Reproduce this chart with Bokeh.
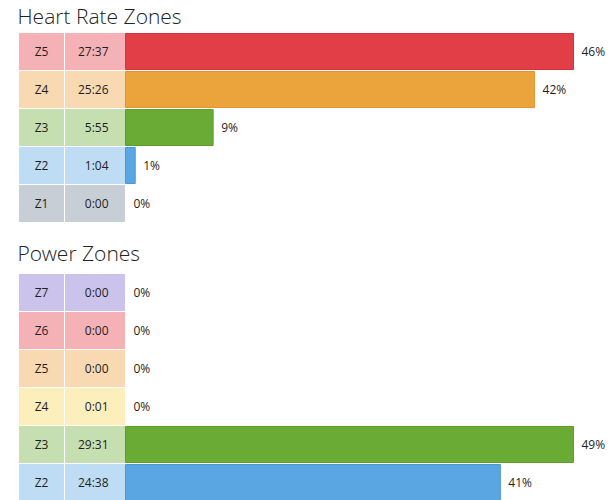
from bokeh.plotting import figure
from bokeh.models import Range1d, ColumnDataSource
from bokeh.layouts import column
from bokeh.embed import file_html
from bokeh.resources import INLINE
from bokeh.core.properties import value

# ---------------- data ----------------
hr_title = "Heart Rate Zones"
hr_zones = ["Z5", "Z4", "Z3", "Z2", "Z1"]
hr_times = ["27:37", "25:26", "5:55", "1:04", "0:00"]
hr_pcts = [46, 42, 9, 1, 0]

pw_title = "Power Zones"
pw_zones = ["Z7", "Z6", "Z5", "Z4", "Z3", "Z2", "Z1"]
pw_times = ["0:00", "0:00", "0:00", "0:01", "29:31", "24:38", "4:46"]
pw_pcts = [0, 0, 0, 0, 49, 41, 8]

# ---------------- styles ----------------
PINK = ("#f4b2b7", "#e23e48", "#d8333d")
PEACH = ("#f8d9b1", "#eba33c", "#e09530")
GREEN = ("#c6dfb1", "#69ab35", "#5e9f2c")
BLUE = ("#bfdcf5", "#5aa6e3", "#4b98d8")
GREY = ("#c8ced6", "#a5adb7", "#98a0aa")
LAV = ("#cbc3ec", "#8f7fd6", "#8171cb")
YEL = ("#fcefbc", "#f2cf4a", "#e6c23c")

hr_styles = [PINK, PEACH, GREEN, BLUE, GREY]
pw_styles = [LAV, PINK, PEACH, YEL, GREEN, BLUE, GREY]

W = 613          # figure width
ROW = 38         # row pitch in px
CELL_L, CELL_M, BAR0 = 18, 64, 125   # cell edges / bar start (px)
BAR_MAX = 448    # px length of the longest bar
FONT = "Open Sans"
TXT = "#1e1e1e"


def chart(title, zones, times, pcts, styles, height, top, title_base):
    k = BAR_MAX / max(pcts)
    p = figure(width=W, height=height, output_backend="svg", toolbar_location=None,
               x_range=Range1d(-BAR0 / k, (W - BAR0) / k),
               y_range=Range1d((height - top) / ROW, -top / ROW),
               x_axis_location=None, y_axis_location=None,
               min_border=0, outline_line_color=None,
               background_fill_color="white", border_fill_color="white")
    p.xgrid.grid_line_color = None
    p.ygrid.grid_line_color = None
    p.extra_x_ranges = {"px": Range1d(0, W)}
    p.extra_y_ranges = {"py": Range1d(height, 0)}

    n = len(zones)
    rows = list(range(n))
    cells = ColumnDataSource(dict(
        left=[CELL_L] * n + [CELL_M] * n,
        right=[CELL_M] * n + [BAR0] * n,
        top=rows + rows,
        bottom=[r + 1 for r in rows] * 2,
        color=[s[0] for s in styles] * 2,
    ))
    p.quad(left="left", right="right", top="top", bottom="bottom", source=cells,
           x_range_name="px", fill_color="color", line_color="white", line_width=1)

    idx = [i for i in rows if pcts[i] > 0]
    bars = ColumnDataSource(dict(
        y=[i + 0.5 for i in idx],
        right=[pcts[i] for i in idx],
        fill=[styles[i][1] for i in idx],
        line=[styles[i][2] for i in idx],
    ))
    p.hbar(y="y", left=0, right="right", height=36 / ROW, source=bars,
           fill_color="fill", line_color="line", line_width=1)

    # only label rows whose centre lies inside the visible area
    vis = [i for i in rows if top + (i + 0.5) * ROW < height - 6]
    labels = ColumnDataSource(dict(
        y=[i + 0.5 for i in vis],
        zone=[zones[i] for i in vis],
        time=[times[i] for i in vis],
        pct=[pcts[i] for i in vis],
        pct_txt=["%d%%" % pcts[i] for i in vis],
        zx=[(CELL_L + CELL_M) / 2] * len(vis),
        tx=[BAR0 - 17] * len(vis),
    ))
    common = dict(source=labels, text_baseline="middle", text_font=value(FONT),
                  text_font_size="12px", text_color=TXT)
    p.text(x="zx", y="y", text="zone", x_range_name="px", text_align="center", **common)
    p.text(x="tx", y="y", text="time", x_range_name="px", text_align="right", **common)
    p.text(x="pct", y="y", text="pct_txt", x_offset=8, text_align="left", **common)

    tsrc = ColumnDataSource(dict(x=[CELL_L - 1], y=[title_base], t=[title]))
    p.text(x="x", y="y", text="t", source=tsrc, x_range_name="px", y_range_name="py",
           text_font=value("Open Sans Light, Open Sans"), text_font_size="21px",
           text_color="#222222", text_baseline="alphabetic", text_align="left")
    return p


p1 = chart(hr_title, hr_zones, hr_times, hr_pcts, hr_styles,
           height=235, top=32, title_base=15)
p2 = chart(pw_title, pw_zones, pw_times, pw_pcts, pw_styles,
           height=265, top=38, title_base=17)

layout = column(p1, p2, spacing=0)
open("out.html", "w").write(file_html(layout, INLINE))
